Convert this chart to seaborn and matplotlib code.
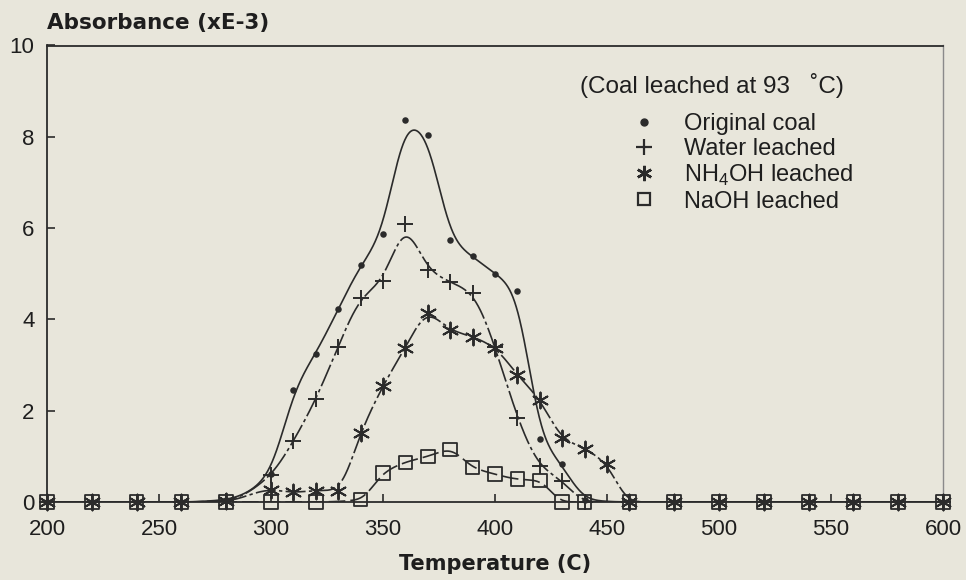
import numpy as np
import pandas as pd
import matplotlib
matplotlib.use("Agg")
import matplotlib.pyplot as plt
from matplotlib.lines import Line2D
import seaborn as sns

# ---------------- data ----------------
zero_lo = [200, 220, 240, 260, 280]
zero_hi = [460, 480, 500, 520, 540, 560, 580, 600]

orig_T = zero_lo + [300, 310, 320, 330, 340, 350, 360, 370, 380, 390, 400, 410, 420, 430, 440] + zero_hi
orig_A = [0, 0, 0, 0, 0.05, 0.62, 2.45, 3.25, 4.22, 5.19, 5.87, 8.36, 8.05, 5.75, 5.38, 5.0, 4.63, 1.38, 0.83, 0.05] + [0] * 8

water_T = zero_lo + [300, 310, 320, 330, 340, 350, 360, 370, 380, 390, 400, 410, 420, 430, 440] + zero_hi
water_A = [0, 0, 0, 0, 0.03, 0.59, 1.34, 2.25, 3.4, 4.47, 4.85, 6.08, 5.09, 4.82, 4.58, 3.4, 1.85, 0.79, 0.47, 0.0] + [0] * 8

nh4_T = zero_lo + [300, 310, 320, 330, 340, 350, 360, 370, 380, 390, 400, 410, 420, 430, 440, 450] + zero_hi
nh4_A = [0, 0, 0, 0, 0.02, 0.27, 0.21, 0.25, 0.25, 1.52, 2.54, 3.38, 4.15, 3.77, 3.62, 3.38, 2.78, 2.24, 1.4, 1.17, 0.83] + [0] * 8

naoh_T = zero_lo + [300, 320, 340, 350, 360, 370, 380, 390, 400, 410, 420, 430, 440] + zero_hi
naoh_A = [0, 0, 0, 0, 0, 0, 0, 0.05, 0.63, 0.87, 1.0, 1.15, 0.76, 0.61, 0.5, 0.47, 0, 0] + [0] * 8

series_names = ["Original coal", "Water leached", "NH$_\\mathregular{4}$OH leached", "NaOH leached"]
legend_title = "(Coal leached at 93   \u02daC)"
x_ticks = [200, 250, 300, 350, 400, 450, 500, 550, 600]
y_ticks = [0, 2, 4, 6, 8, 10]


def pchip(x, y, xn):
    x = np.asarray(x, float)
    y = np.asarray(y, float)
    h = np.diff(x)
    d = np.diff(y) / h
    m = np.zeros_like(y)
    for k in range(1, len(x) - 1):
        if d[k - 1] * d[k] > 0:
            w1 = 2 * h[k] + h[k - 1]
            w2 = h[k] + 2 * h[k - 1]
            m[k] = (w1 + w2) / (w1 / d[k - 1] + w2 / d[k])
    m[0] = d[0]
    m[-1] = d[-1]
    idx = np.clip(np.searchsorted(x, xn) - 1, 0, len(x) - 2)
    t = (xn - x[idx]) / h[idx]
    h00 = 2 * t**3 - 3 * t**2 + 1
    h10 = t**3 - 2 * t**2 + t
    h01 = -2 * t**3 + 3 * t**2
    h11 = t**3 - t**2
    return h00 * y[idx] + h10 * h[idx] * m[idx] + h01 * y[idx + 1] + h11 * h[idx] * m[idx + 1]


def smooth_curve(T, A, grid, sigma):
    """Smoothed fitted curve through the measured points (drawn as the trend line)."""
    raw = pchip(T, A, grid)
    step = grid[1] - grid[0]
    half = int(4 * sigma / step)
    k = np.exp(-0.5 * (np.arange(-half, half + 1) * step / sigma) ** 2)
    k /= k.sum()
    padded = np.pad(raw, half, mode="edge")
    return np.clip(np.convolve(padded, k, mode="valid"), 0, None)


# ---------------- style ----------------
sns.set_theme(style="ticks")
plt.rcParams["font.family"] = ["Liberation Sans", "DejaVu Sans"]
plt.rcParams["mathtext.fontset"] = "custom"
plt.rcParams["mathtext.rm"] = "Liberation Sans"

bg = "#e8e6db"
ink = "#2b2b2b"

fig = plt.figure(figsize=(9.66, 5.80), dpi=100, facecolor=bg)
ax = fig.add_axes([47 / 966, 1 - 502 / 580, (943 - 47) / 966, (502 - 45.5) / 580])
ax.set_facecolor(bg)

dense = np.linspace(200, 600, 1601)
specs = [
    (orig_T, orig_A, "o", 22, 0, "-", 1.2, 4.5),
    (water_T, water_A, "+", 130, 1.4, (0, (14, 2, 2, 2)), 1.2, 4.0),
    (nh4_T, nh4_A, (6, 2, 0), 130, 1.4, (0, (12, 2, 2, 2)), 1.2, 3.5),
    (naoh_T, naoh_A, "s", 95, 1.3, (0, (10, 3)), 1.2, 3.0),
]

for T, A, mk, s, mlw, ls, lw, sig in specs:
    curve = pd.DataFrame({"T": dense, "A": smooth_curve(T, A, dense, sig)})
    sns.lineplot(data=curve, x="T", y="A", ax=ax, color=ink, linewidth=lw,
                 linestyle=ls, estimator=None, sort=False)
    pts = pd.DataFrame({"T": T, "A": A})
    if mk == "s":
        sns.scatterplot(data=pts, x="T", y="A", ax=ax, marker="s", s=s,
                        facecolor="none", edgecolor=ink, linewidth=mlw,
                        clip_on=False, zorder=4)
    elif mk == "o":
        sns.scatterplot(data=pts, x="T", y="A", ax=ax, marker="o", s=s,
                        color=ink, linewidth=0, clip_on=False, zorder=4)
    else:
        sns.scatterplot(data=pts, x="T", y="A", ax=ax, marker=mk, s=s,
                        color=ink, linewidth=mlw, clip_on=False, zorder=4)

ax.set_xlim(200, 600)
ax.set_ylim(0, 10)
ax.set_xticks(x_ticks)
ax.set_yticks(y_ticks)
ax.tick_params(direction="in", length=6, width=1.2, color=ink, labelsize=16,
               labelcolor="#1e1e1e")
ax.tick_params(axis="x", pad=12)
ax.tick_params(axis="y", pad=9)
for sp in ax.spines.values():
    sp.set_visible(True)
    sp.set_color(ink)
    sp.set_linewidth(1.3)
ax.spines["right"].set_color("#8a8a8a")
ax.spines["right"].set_linewidth(1.0)

ax.set_xlabel("Temperature (C)", fontsize=15, fontweight="bold",
              family=["DejaVu Sans"], color="#1e1e1e", labelpad=10)
ax.set_ylabel("Absorbance (xE-3)", fontsize=15.5, fontweight="bold",
              family=["DejaVu Sans"], color="#1e1e1e", rotation=0,
              ha="left", va="center")
ax.yaxis.set_label_coords(0.0, 1.05)

# legend
handles = [
    Line2D([], [], marker="o", ls="none", color=ink, ms=5),
    Line2D([], [], marker="+", ls="none", color=ink, ms=11, mew=1.6),
    Line2D([], [], marker=(6, 2, 0), ls="none", color=ink, ms=11, mew=1.8),
    Line2D([], [], marker="s", ls="none", mfc="none", mec=ink, ms=8, mew=1.6),
]
leg = ax.legend(handles, series_names, loc="upper left",
                bbox_to_anchor=(632 / 966, 1 - 113 / 580),
                bbox_transform=fig.transFigure, frameon=False,
                fontsize=17, handlelength=1.0, handletextpad=1.2,
                labelspacing=0.12, borderpad=0, borderaxespad=0)
for t in leg.get_texts():
    t.set_color("#1e1e1e")
fig.text(580 / 966, 1 - 85 / 580, legend_title, fontsize=17.5, color="#1e1e1e",
         ha="left", va="center")

fig.savefig("out.png", dpi=100, facecolor=bg)
